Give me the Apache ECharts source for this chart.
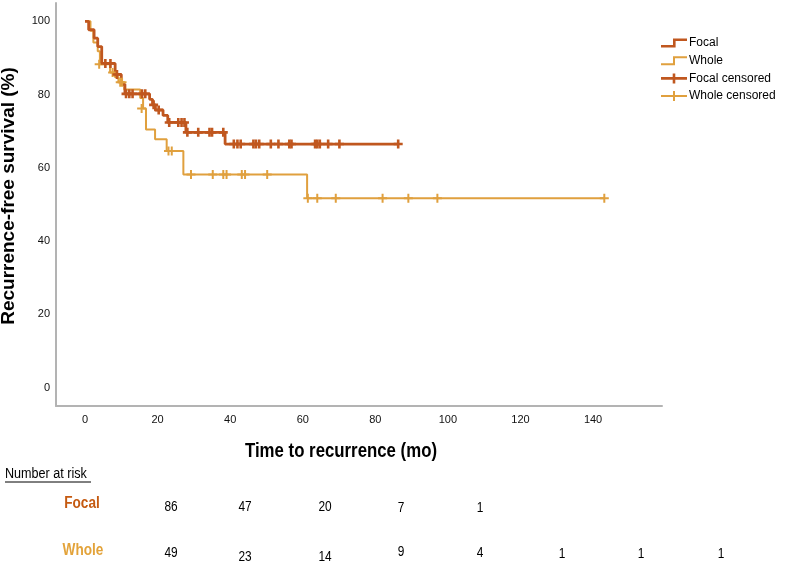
<!DOCTYPE html>
<html>
<head>
<meta charset="utf-8">
<script src="https://cdn.jsdelivr.net/npm/echarts@6/dist/echarts.min.js"></script>
<style>
html,body{margin:0;padding:0;background:#fff;}
#chart{width:791px;height:563px;}
</style>
</head>
<body>
<div id="chart"></div>
<script>
// ---- data ----
const xTicks = [0, 20, 40, 60, 80, 100, 120, 140];
const yTicks = [0, 20, 40, 60, 80, 100];

// Kaplan-Meier steps [time (mo), survival (%)]
const focalSteps = [[0,100],[1.0,97.7],[2.5,95.4],[3.5,93.1],[4.6,88.5],[8.3,85.5],[10.0,82.8],[11.0,80.2],[17.8,78.7],[18.6,77.2],[19.4,75.8],[21.5,74.3],[22.8,72.4],[27.8,69.7],[38.6,66.5],[86.3,66.5]];
const wholeSteps = [[0,100],[1.5,97.4],[2.3,94.2],[3.5,91.8],[4.1,88.3],[6.9,86.0],[8.2,84.8],[9.2,83.4],[10.8,81.4],[15.2,79.1],[16.0,76.2],[16.8,70.5],[19.3,67.8],[22.5,64.6],[27.1,58.2],[61.2,51.7],[143.1,51.7]];

const focalCensored = [[5.6,88.5],[7.0,88.5],[8.8,85.5],[11.3,80.2],[12.2,80.2],[13.1,80.2],[15.7,80.2],[16.6,80.2],[18.9,77.2],[20.3,75.8],[23.2,72.4],[25.7,72.4],[26.6,72.4],[27.4,72.4],[28.2,69.7],[31.2,69.7],[34.3,69.7],[35.0,69.7],[38.1,69.7],[41.0,66.5],[42.0,66.5],[42.9,66.5],[46.4,66.5],[47.1,66.5],[48.0,66.5],[51.2,66.5],[53.3,66.5],[56.3,66.5],[56.9,66.5],[63.4,66.5],[64.0,66.5],[64.7,66.5],[67.0,66.5],[70.1,66.5],[86.3,66.5]];
const wholeCensored = [[3.9,88.3],[7.6,86.0],[9.7,83.4],[10.2,83.4],[15.6,76.2],[23.0,64.6],[23.9,64.6],[29.2,58.2],[35.2,58.2],[38.1,58.2],[39.0,58.2],[43.2,58.2],[44.1,58.2],[50.2,58.2],[61.4,51.7],[64.0,51.7],[69.1,51.7],[82.0,51.7],[89.1,51.7],[97.1,51.7],[143.1,51.7]];

const riskGroups = ['Focal', 'Whole'];
const riskFocal = [86, 47, 20, 7, 1];
const riskWhole = [49, 23, 14, 9, 4, 1, 1, 1];

// ---- styles / layout ----
const cFocal = '#C0571F';
const cWhole = '#E0A03E';
const riskX = [171, 245, 325, 401, 480, 562, 641, 721];
const riskYFocal = [507, 507, 507, 508, 508];
const riskYWhole = [553, 557, 557, 552, 553, 554, 554, 554];
const sans = '"Liberation Sans", Arial, sans-serif';

const stepIconF = 'path://M0,6.5 H12 V0 H26 V2.6 H14.6 V9.1 H0 Z';
const stepIconW = 'path://M0,7 H12 V0 H26 V2 H14 V9 H0 Z';
const plusIconF = 'path://M0,3.7 H11.7 V0 H14.3 V3.7 H26 V6.3 H14.3 V10 H11.7 V6.3 H0 Z';
const plusIconW = 'path://M0,4 H12 V0 H14 V4 H26 V6 H14 V10 H12 V6 H0 Z';
const plusF = 'path://M-1.3,-4.5 H1.3 V-1.3 H4.5 V1.3 H1.3 V4.5 H-1.3 V1.3 H-4.5 V-1.3 H-1.3 Z';
const plusW = 'path://M-1,-4.5 H1 V-1 H4.5 V1 H1 V4.5 H-1 V1 H-4.5 V-1 H-1 Z';

const chart = echarts.init(document.getElementById('chart'), null, {renderer: 'canvas'});

function txt(x, y, text, font, fill, align, sx) {
  return {type:'text', x: x, y: y, scaleX: sx || 1,
    style:{text: text, font: font, fill: fill, align: align, verticalAlign: 'middle'}};
}

const graphics = [
  {type:'text', x: 9, y: 196, rotation: Math.PI/2,
   style:{text:'Recurrence-free survival (%)', font:'bold 19px ' + sans, fill:'#000', align:'center', verticalAlign:'middle'}},
  txt(341, 451, 'Time to recurrence (mo)', 'bold 20px ' + sans, '#000', 'center', 0.84),
  txt(5, 474, 'Number at risk', '14px ' + sans, '#000', 'left', 0.9),
  {type:'line', shape:{x1:5, y1:482, x2:91, y2:482}, style:{stroke:'#000', lineWidth:1}},
  txt(82, 504, riskGroups[0], 'bold 16px ' + sans, '#C55A11', 'center', 0.85),
  txt(83, 551, riskGroups[1], 'bold 16px ' + sans, '#E3A33A', 'center', 0.85)
];
riskFocal.forEach((v, i) => graphics.push(txt(riskX[i], riskYFocal[i], String(v), '14px ' + sans, '#000', 'center', 0.85)));
riskWhole.forEach((v, i) => graphics.push(txt(riskX[i], riskYWhole[i], String(v), '14px ' + sans, '#000', 'center', 0.85)));

chart.setOption({
  animation: false,
  backgroundColor: '#fff',
  grid: {left: 56, right: 129, top: 3, bottom: 157, containLabel: false},
  xAxis: {
    type: 'value', min: -8, max: 159,
    axisLine: {show: true, onZero: false, lineStyle: {color: '#b3b3b3', width: 2}},
    axisTick: {show: false},
    splitLine: {show: false},
    axisLabel: {customValues: xTicks, color: '#111', fontSize: 11, margin: 8, fontFamily: sans}
  },
  yAxis: {
    type: 'value', min: -5, max: 105,
    axisLine: {show: true, onZero: false, lineStyle: {color: '#b3b3b3', width: 2}},
    axisTick: {show: false},
    splitLine: {show: false},
    axisLabel: {customValues: yTicks, color: '#111', fontSize: 11, margin: 6, fontFamily: sans}
  },
  legend: {
    orient: 'vertical', left: 661, top: 37, padding: 0,
    itemWidth: 26, itemHeight: 10, itemGap: 5.7,
    textStyle: {fontSize: 12, color: '#000', fontFamily: sans, padding: [0,0,0,-3]},
    data: [
      {name: 'Focal', icon: stepIconF},
      {name: 'Whole', icon: stepIconW},
      {name: 'Focal censored', icon: plusIconF},
      {name: 'Whole censored', icon: plusIconW}
    ]
  },
  series: [
    {name: 'Whole', type: 'line', step: 'end', data: wholeSteps, showSymbol: false, symbol: 'none',
     lineStyle: {color: cWhole, width: 2}, itemStyle: {color: cWhole}, z: 2},
    {name: 'Focal', type: 'line', step: 'end', data: focalSteps, showSymbol: false, symbol: 'none',
     lineStyle: {color: cFocal, width: 2.8}, itemStyle: {color: cFocal}, z: 3},
    {name: 'Whole censored', type: 'scatter', data: wholeCensored, symbol: plusW, symbolSize: 9,
     itemStyle: {color: cWhole, opacity: 1}, z: 4},
    {name: 'Focal censored', type: 'scatter', data: focalCensored, symbol: plusF, symbolSize: 9,
     itemStyle: {color: cFocal, opacity: 1}, z: 5}
  ],
  graphic: graphics
});
</script>
</body>
</html>
